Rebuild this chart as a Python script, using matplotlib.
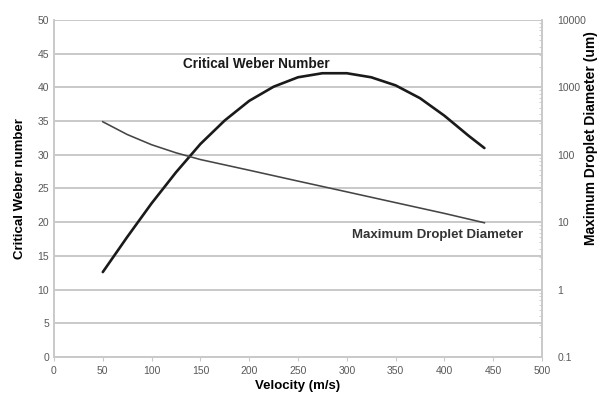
import numpy as np
import matplotlib.pyplot as plt
from matplotlib.ticker import LogLocator, NullFormatter, FixedLocator

# ── Data ───────────────────────────────────────────────────────────────────────

weber_velocity = [50, 75, 100, 125, 150, 175, 200, 225, 250, 275, 300,
                  325, 350, 375, 400, 425, 441]
weber_number   = [12.6, 17.8, 22.8, 27.4, 31.6, 35.1, 38.0, 40.1, 41.5, 42.1,
                  42.1, 41.5, 40.3, 38.4, 35.8, 32.8, 31.0]

drop_velocity  = [50, 75, 100, 125, 150, 200, 250, 300, 350, 400, 441]
drop_diameter  = [309, 200, 141, 107, 85, 59, 40.7, 28.2, 19.5, 13.5, 9.8]

x_ticks  = [0, 50, 100, 150, 200, 250, 300, 350, 400, 450, 500]
yl_ticks = [0, 5, 10, 15, 20, 25, 30, 35, 40, 45, 50]
yr_ticks = [0.1, 1, 10, 100, 1000, 10000]
yr_labels = ['0.1', '1', '10', '100', '1000', '10000']

# ── Drawing ────────────────────────────────────────────────────────────────────

plt.rcParams['font.family'] = ['Liberation Sans', 'DejaVu Sans']

GRID = '#c9c9c9'
TICK = '#595959'

fig = plt.figure(figsize=(6.02, 3.99), dpi=100)
ax = fig.add_axes([0.0897, 0.1053, 0.8106, 0.8446])
ax2 = ax.twinx()

ax.set_xlim(0, 500)
ax.set_ylim(0, 50)
ax.set_xticks(x_ticks)
ax.set_yticks(yl_ticks)
ax.grid(axis='y', color=GRID, linewidth=1.4)
ax.set_axisbelow(True)
ax.tick_params(labelsize=7.5, colors=TICK, length=3, width=0.8)
ax.tick_params(axis='x', color=GRID)
ax.tick_params(axis='y', length=0)

ax.spines['top'].set_visible(False)
ax2.spines['top'].set_visible(False)
for side in ['left', 'bottom', 'right']:
    for a in (ax, ax2):
        a.spines[side].set_color(GRID)
        a.spines[side].set_linewidth(1.2)

ax.plot(weber_velocity, weber_number, color='#1a1a1a', linewidth=1.9,
        solid_capstyle='round')

ax2.set_yscale('log')
ax2.set_ylim(0.1, 10000)
ax2.yaxis.set_major_locator(FixedLocator(yr_ticks))
ax2.set_yticklabels(yr_labels)
ax2.yaxis.set_minor_locator(LogLocator(base=10, subs=np.arange(2, 10)))
ax2.yaxis.set_minor_formatter(NullFormatter())
ax2.tick_params(axis='y', which='major', labelsize=7.5, colors=TICK,
                length=0, pad=11)
ax2.tick_params(axis='y', which='minor', length=2, color=GRID, direction='in')
ax2.plot(drop_velocity, drop_diameter, color='#454545', linewidth=1.15)

ax.text(132, 43.5, 'Critical Weber Number', fontsize=9.8, fontweight='bold',
        color='#1a1a1a', va='center', ha='left')
ax.text(305, 18.1, 'Maximum Droplet Diameter', fontsize=9.5, fontweight='bold',
        color='#333333', va='center', ha='left')

ax.set_xlabel('Velocity (m/s)', fontsize=9.5, fontweight='bold', labelpad=3)
ax.set_ylabel('Critical Weber number', fontsize=9.5, fontweight='bold',
              labelpad=8)
ax2.set_ylabel('Maximum Droplet Diameter (um)', fontsize=10,
               fontweight='bold')
ax2.yaxis.label.set_va('center')
ax2.yaxis.set_label_coords(1.1, 0.65)

fig.savefig('out.png', dpi=100)
